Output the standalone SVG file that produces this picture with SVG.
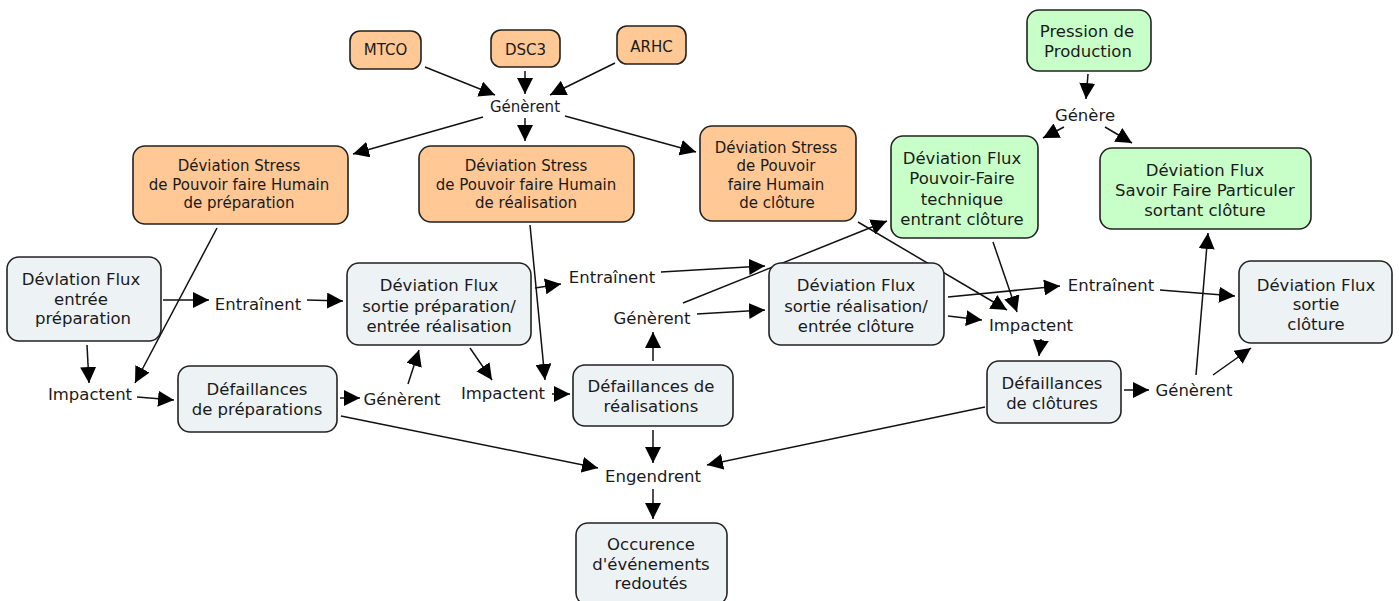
<svg xmlns="http://www.w3.org/2000/svg" width="1399" height="601" viewBox="0 0 1399 601">
<style>
text{font-family:"DejaVu Sans","Verdana",sans-serif;fill:#1a1a1a;text-anchor:middle}
.n rect{stroke:#222;stroke-width:1.6}
.o rect{fill:#ffc894}
.g rect{fill:#c8ffc8}
.b rect{fill:#edf3f5}
.o text{font-size:15px}
.g text,.b text{font-size:16.5px}
.l text{font-size:16.5px}
#edges line{stroke:#111;stroke-width:1.5;marker-end:url(#ah)}
</style>
<defs>
<marker id="ah" markerUnits="userSpaceOnUse" viewBox="0 0 16 16" markerWidth="16" markerHeight="16" refX="16" refY="8" orient="auto">
<path d="M0,0 L16,8 L0,16 z" fill="#000"/>
</marker>
</defs>
<rect width="1399" height="601" fill="#fff"/>

<g id="edges">
<line x1="425" y1="67" x2="495" y2="95"/>
<line x1="525" y1="71" x2="525" y2="94"/>
<line x1="615" y1="63" x2="550" y2="95"/>
<line x1="483" y1="117" x2="353" y2="154"/>
<line x1="525" y1="118" x2="525" y2="141"/>
<line x1="565" y1="116" x2="696" y2="152"/>
<line x1="1088" y1="74" x2="1086" y2="99"/>
<line x1="1064" y1="127" x2="1043" y2="138"/>
<line x1="1105" y1="127" x2="1132" y2="143"/>
<line x1="163" y1="300" x2="209" y2="300"/>
<line x1="307" y1="300" x2="343" y2="301"/>
<line x1="87" y1="345" x2="89" y2="383"/>
<line x1="217" y1="228" x2="135" y2="383"/>
<line x1="137" y1="397" x2="174" y2="400"/>
<line x1="340" y1="398" x2="360" y2="398"/>
<line x1="408" y1="384" x2="419" y2="350"/>
<line x1="470" y1="348" x2="492" y2="380"/>
<line x1="530" y1="225" x2="545" y2="380"/>
<line x1="535" y1="288" x2="561" y2="284"/>
<line x1="552" y1="394" x2="570" y2="394"/>
<line x1="661" y1="272" x2="765" y2="266"/>
<line x1="653" y1="361" x2="653" y2="332"/>
<line x1="697" y1="314" x2="765" y2="310"/>
<line x1="683" y1="303" x2="887" y2="221"/>
<line x1="858" y1="222" x2="1007" y2="310"/>
<line x1="993" y1="242" x2="1017" y2="312"/>
<line x1="948" y1="297" x2="1060" y2="286"/>
<line x1="948" y1="316" x2="982" y2="320"/>
<line x1="1160" y1="290" x2="1235" y2="296"/>
<line x1="1041" y1="339" x2="1039" y2="356"/>
<line x1="1124" y1="390" x2="1149" y2="390"/>
<line x1="1196" y1="375" x2="1208" y2="233"/>
<line x1="1213" y1="375" x2="1251" y2="348"/>
<line x1="341" y1="416" x2="598" y2="468"/>
<line x1="653" y1="430" x2="653" y2="463"/>
<line x1="985" y1="407" x2="707" y2="465"/>
<line x1="653" y1="489" x2="653" y2="519"/>
</g>

<g id="mtco" class="n o"><rect x="350" y="31" width="71" height="38" rx="10"/><text x="385.5" y="55">MTCO</text></g>
<g id="dsc3" class="n o"><rect x="491" y="30" width="69" height="37" rx="10"/><text x="525.5" y="54.5">DSC3</text></g>
<g id="arhc" class="n o"><rect x="617" y="26" width="69" height="38" rx="10"/><text x="651.5" y="51.5">ARHC</text></g>

<g id="stress-prep" class="n o"><rect x="133" y="146" width="215" height="78" rx="12"/>
<text x="239" y="171">Déviation Stress</text><text x="239" y="189.5">de Pouvoir faire Humain</text><text x="239" y="208">de préparation</text></g>
<g id="stress-real" class="n o"><rect x="419" y="146" width="215" height="76" rx="12"/>
<text x="526" y="171">Déviation Stress</text><text x="526" y="189.5">de Pouvoir faire Humain</text><text x="526" y="208">de réalisation</text></g>
<g id="stress-clot" class="n o"><rect x="700" y="126" width="156" height="95" rx="12"/>
<text x="776" y="152.5">Déviation Stress</text><text x="776" y="171">de Pouvoir</text><text x="776" y="189.5">faire Humain</text><text x="777" y="208">de clôture</text></g>

<g id="pression" class="n g"><rect x="1027" y="10" width="124" height="61" rx="12"/>
<text x="1087" y="36.5">Pression de</text><text x="1088" y="56.5">Production</text></g>
<g id="df-pf" class="n g"><rect x="891" y="136" width="147" height="102" rx="12"/>
<text x="962" y="164">Déviation Flux</text><text x="962" y="184">Pouvoir-Faire</text><text x="962" y="204.5">technique</text><text x="962" y="224.5">entrant clôture</text></g>
<g id="df-sf" class="n g"><rect x="1100" y="148" width="211" height="81" rx="12"/>
<text x="1205" y="176">Déviation Flux</text><text x="1205" y="196">Savoir Faire Particuler</text><text x="1205" y="215.5">sortant clôture</text></g>

<g id="df-entree-prep" class="n b"><rect x="7" y="257" width="154" height="84" rx="12"/>
<text x="81" y="285">Dévlation Flux</text><text x="81" y="304.5">entrée</text><text x="83" y="324">préparation</text></g>
<g id="df-sortie-prep" class="n b"><rect x="347" y="263" width="184" height="82" rx="12"/>
<text x="439" y="290.5">Déviation Flux</text><text x="439" y="311.5">sortie préparation/</text><text x="439" y="332">entrée réalisation</text></g>
<g id="def-prep" class="n b"><rect x="178" y="366" width="159" height="66" rx="12"/>
<text x="257" y="395">Défaillances</text><text x="257" y="414.5">de préparations</text></g>
<g id="def-real" class="n b"><rect x="573" y="365" width="160" height="61" rx="12"/>
<text x="651" y="392">Défaillances de</text><text x="651" y="412">réalisations</text></g>
<g id="df-sortie-real" class="n b"><rect x="769" y="263" width="175" height="82" rx="12"/>
<text x="856" y="290.5">Déviation Flux</text><text x="856" y="311.5">sortie réalisation/</text><text x="856" y="332">entrée clôture</text></g>
<g id="def-clot" class="n b"><rect x="987" y="361" width="134" height="62" rx="12"/>
<text x="1052" y="389">Défaillances</text><text x="1052" y="409">de clôtures</text></g>
<g id="df-sortie-clot" class="n b"><rect x="1239" y="261" width="153" height="82" rx="12"/>
<text x="1316" y="290.5">Déviation Flux</text><text x="1316" y="310">sortie</text><text x="1316" y="329.5">clôture</text></g>
<g id="occurence" class="n b"><rect x="576" y="523" width="151" height="82" rx="12"/>
<text x="651" y="549.5">Occurence</text><text x="651" y="569.5">d'événements</text><text x="651" y="589">redoutés</text></g>

<g id="labels" class="l">
<text x="525" y="112" style="font-size:15px">Génèrent</text>
<text x="1085" y="120.5">Génère</text>
<text x="258" y="309.5">Entraînent</text>
<text x="90" y="399.5">Impactent</text>
<text x="402" y="404.5">Génèrent</text>
<text x="612" y="282.5">Entraînent</text>
<text x="652" y="323.5">Génèrent</text>
<text x="503" y="398.5">Impactent</text>
<text x="653" y="481.5">Engendrent</text>
<text x="1111" y="290.5">Entraînent</text>
<text x="1031" y="330.5">Impactent</text>
<text x="1194" y="395.5">Génèrent</text>
</g>
</svg>
